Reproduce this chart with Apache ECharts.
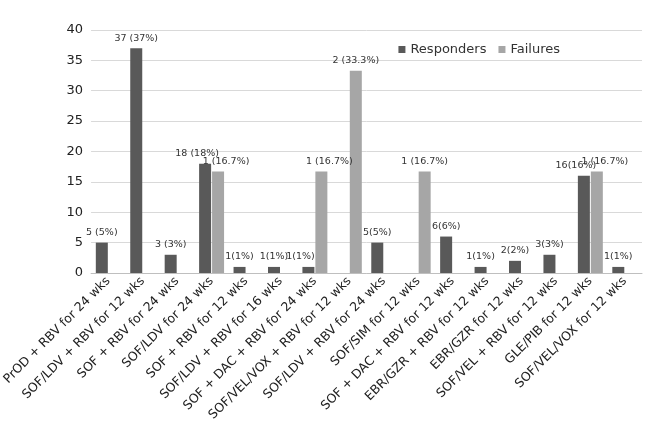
<!DOCTYPE html>
<html><head><meta charset="utf-8">
<script src="https://cdn.jsdelivr.net/npm/echarts@6/dist/echarts.min.js"></script>
<style>html,body{margin:0;padding:0;background:#fff}#c{width:670px;height:424px}</style>
</head><body><div id="c"></div>
<script>
const categories = ["PrOD + RBV for 24 wks","SOF/LDV + RBV for 12 wks","SOF + RBV for 24 wks","SOF/LDV for 24 wks","SOF + RBV for 12 wks","SOF/LDV + RBV for 16 wks","SOF + DAC + RBV for 24 wks","SOF/VEL/VOX + RBV for 12 wks","SOF/LDV + RBV for 24 wks","SOF/SIM for 12 wks","SOF + DAC + RBV for 12 wks","EBR/GZR + RBV for 12 wks","EBR/GZR for 12 wks","SOF/VEL + RBV for 12 wks","GLE/PIB for 12 wks","SOF/VEL/VOX for 12 wks"];
const responders = [5,37,3,18,1,1,1,null,5,null,6,1,2,3,16,1];
const responderLabels = ["5 (5%)","37 (37%)","3 (3%)","18 (18%)","1(1%)","1(1%)","1(1%)","","5(5%)","","6(6%)","1(1%)","2(2%)","3(3%)","16(16%)","1(1%)"];
const failures = [null,null,null,16.7,null,null,16.7,33.3,null,16.7,null,null,null,null,16.7,null];
const failureLabels = ["","","","1 (16.7%)","","","1 (16.7%)","2 (33.3%)","","1 (16.7%)","","","","","1 (16.7%)",""];
const yTicks = {min:0,max:40,interval:5};
const lab = arr => ({show:true,position:'top',fontSize:9.5,color:'#333',fontFamily:'DejaVu Sans',formatter:p=>arr[p.dataIndex]});
const rData = responders.map((v,i)=> failures[i]!=null && v!=null ? {value:v,label:{offset:[-8,0]}} : v);
const fData = failures.map((v,i)=> responders[i]!=null && v!=null ? {value:v,label:{offset:[8,0]}} : v);
echarts.init(document.getElementById('c')).setOption({
  animation:false,
  textStyle:{fontFamily:'DejaVu Sans'},
  grid:{left:66,right:28,top:30,bottom:145,containLabel:false},
  legend:{right:105,top:38,itemWidth:7,itemHeight:7,itemGap:12,textStyle:{fontSize:13,color:'#333'},
    data:[{name:'Responders',icon:'rect'},{name:'Failures',icon:'rect'}]},
  xAxis:{type:'category',data:categories,axisTick:{show:false},axisLine:{lineStyle:{color:'#bfbfbf'}},
    axisLabel:{rotate:45,interval:0,fontSize:12.5,color:'#222',margin:6}},
  yAxis:{type:'value',min:yTicks.min,max:yTicks.max,interval:yTicks.interval,
    axisLabel:{fontSize:13,color:'#222'},splitLine:{lineStyle:{color:'#d9d9d9'}}},
  series:[
    {name:'Responders',type:'bar',data:rData,barWidth:12,barGap:'8%',itemStyle:{color:'#595959'},label:lab(responderLabels)},
    {name:'Failures',type:'bar',data:fData,barWidth:12,itemStyle:{color:'#a6a6a6'},label:lab(failureLabels)}
  ]
});
</script></body></html>
